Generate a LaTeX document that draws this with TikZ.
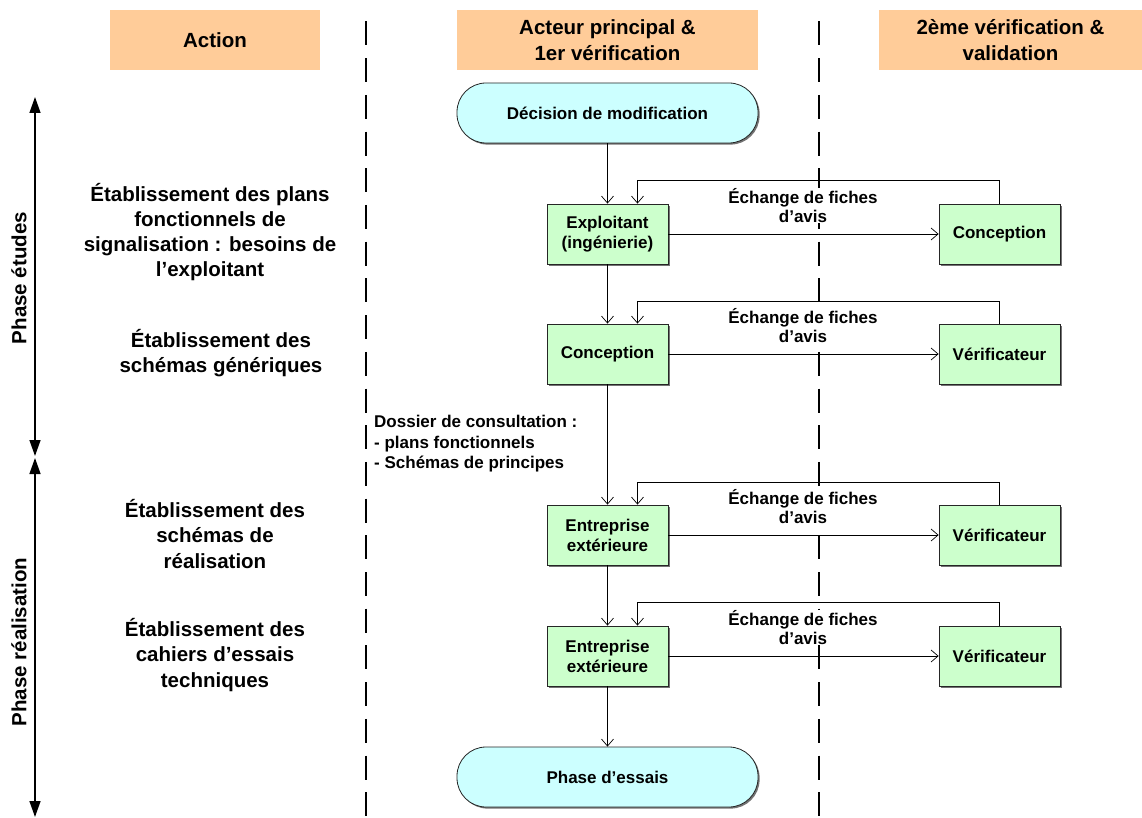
\documentclass[tikz,border=0pt]{standalone}
\usepackage{fontspec}
\setmainfont{Liberation Sans}
\usetikzlibrary{arrows.meta,shadows}
\definecolor{hdrc}{RGB}{255,204,153}
\definecolor{boxc}{RGB}{204,255,204}
\definecolor{termc}{RGB}{204,255,255}
\begin{document}
\begin{tikzpicture}[x=1pt,y=-1pt,
  every node/.style={font=\bfseries\fontsize{17}{20}\selectfont},
  hdr/.style={fill=hdrc, inner sep=0pt, minimum height=60pt, align=center,
    font=\bfseries\fontsize{20.5}{26}\selectfont},
  actbox/.style={draw=black!85, line width=0.8pt, fill=boxc, minimum width=121pt, minimum height=60pt,
    inner sep=0pt, align=center, drop shadow={shadow xshift=1.6pt, shadow yshift=-1.6pt, fill=black!55, opacity=1}},
  term/.style={draw=black!85, line width=0.8pt, fill=termc, minimum width=301pt, minimum height=60pt,
    rounded corners=29pt, inner sep=0pt, drop shadow={shadow xshift=1.6pt, shadow yshift=-1.6pt, fill=black!55, opacity=1}},
  lefttxt/.style={align=center, font=\bfseries\fontsize{20.5}{25.3}\selectfont},
  xlbl/.style={align=center, fill=white, inner sep=0.5pt, font=\bfseries\fontsize{17}{19.5}\selectfont},
  arr/.style={line width=0.7pt, -{Straight Barb[length=7pt,width=12pt,line width=0.7pt]}},
  sep/.style={line width=1.3pt, dash pattern=on 24pt off 12.7pt},
  phasearr/.style={line width=1.4pt, {Triangle[width=11pt,length=16pt]}-{Triangle[width=11pt,length=16pt]}},
  phaselbl/.style={rotate=90, font=\bfseries\fontsize{20.5}{24}\selectfont}
]
\useasboundingbox (0,0) rectangle (1142,818);

% separators
\coordinate (s1t) at (366,21.5); \coordinate (s1b) at (366,818);
\coordinate (s2t) at (819,21.5); \coordinate (s2b) at (819,818);
\draw[sep] (s1t) -- (s1b);
\draw[sep] (s2t) -- (s2b);

% headers
\node[hdr, minimum width=210pt] (h1) at (215,40) {Action};
\node[hdr, minimum width=301pt] (h2) at (607.5,40) {Acteur principal \&\\1er vérification};
\node[hdr, minimum width=263pt] (h3) at (1010.5,40) {2ème vérification \&\\validation};

% phase arrows
\coordinate (pa1) at (35,97); \coordinate (pa2) at (35,456);
\coordinate (pa3) at (35,458); \coordinate (pa4) at (35,817);
\draw[phasearr] (pa1) -- (pa2);
\draw[phasearr] (pa3) -- (pa4);
\node[phaselbl] (pl1) at (19,278) {Phase études};
\node[phaselbl] (pl2) at (19,642) {Phase réalisation};

% left texts
\node[lefttxt] (l1) at (210,232) {Établissement des plans\\fonctionnels de\\signalisation : besoins de\\l’exploitant};
\node[lefttxt] (l2) at (221,353) {Établissement des\\schémas génériques};
\node[lefttxt] (l3) at (215,534) {Établissement des\\schémas de\\réalisation};
\node[lefttxt] (l4) at (215,655) {Établissement des\\cahiers d’essais\\techniques};

% main column
\node[term] (dec) at (607.5,113) {Décision de modification};
\node[actbox] (e1) at (607.5,234) {Exploitant\\(ingénierie)};
\node[actbox] (e2) at (607.5,354) {Conception};
\node[actbox] (e3) at (607.5,535) {Entreprise\\extérieure};
\node[actbox] (e4) at (607.5,656) {Entreprise\\extérieure};
\node[term] (ess) at (607.5,777) {Phase d’essais};

% right column
\node[actbox] (v1) at (999.5,234) {Conception};
\node[actbox] (v2) at (999.5,354) {Vérificateur};
\node[actbox] (v3) at (999.5,535) {Vérificateur};
\node[actbox] (v4) at (999.5,656) {Vérificateur};

% exchange labels
\node[xlbl] (x1) at (803,205.5) {Échange de fiches\\d’avis};
\node[xlbl] (x2) at (803,325.5) {Échange de fiches\\d’avis};
\node[xlbl] (x3) at (803,506.5) {Échange de fiches\\d’avis};
\node[xlbl] (x4) at (803,627.5) {Échange de fiches\\d’avis};

% dossier
\node[anchor=north west, align=left, inner sep=0pt, font=\bfseries\fontsize{17}{20.5}\selectfont] (dos) at (374,415)
  {Dossier de consultation :\\- plans fonctionnels\\- Schémas de principes};

% vertical flow
\draw[arr] (dec) -- (e1);
\draw[arr] (e1) -- (e2);
\draw[arr] (e2) -- (e3);
\draw[arr] (e3) -- (e4);
\draw[arr] (e4) -- (ess);

% horizontal
\draw[arr] (e1) -- (v1);
\draw[arr] (e2) -- (v2);
\draw[arr] (e3) -- (v3);
\draw[arr] (e4) -- (v4);

% feedback
\draw[arr] (v1.north) -- ++(0,-23) -| ([xshift=30pt]e1.north);
\draw[arr] (v2.north) -- ++(0,-22) -| ([xshift=30pt]e2.north);
\draw[arr] (v3.north) -- ++(0,-22) -| ([xshift=30pt]e3.north);
\draw[arr] (v4.north) -- ++(0,-23) -| ([xshift=30pt]e4.north);
\end{tikzpicture}
\end{document}
